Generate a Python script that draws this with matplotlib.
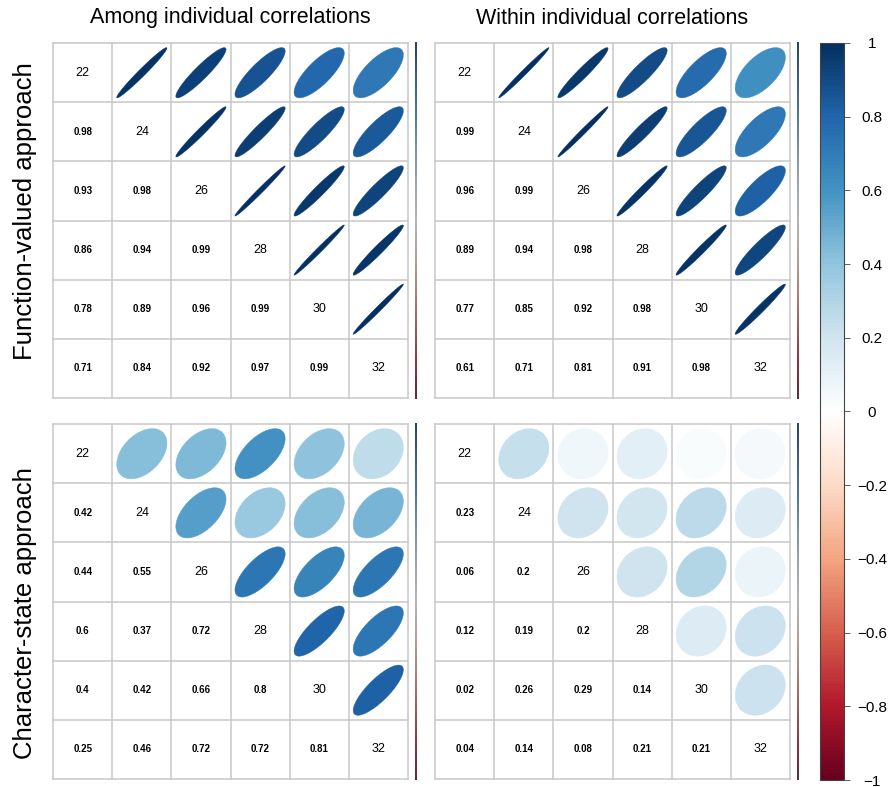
import numpy as np
import matplotlib
matplotlib.use("Agg")
import matplotlib.pyplot as plt
from matplotlib.colors import LinearSegmentedColormap, Normalize
from matplotlib.patches import Polygon
from matplotlib.cm import ScalarMappable

plt.rcParams['font.family'] = ['Liberation Sans', 'DejaVu Sans']

# trait labels (temperatures) on the diagonal
traits = ["22", "24", "26", "28", "30", "32"]

col_titles = ["Among individual correlations", "Within individual correlations"]
row_titles = ["Function-valued approach", "Character-state approach"]

# lower triangles, row by row
fv_among = [[0.98],
            [0.93, 0.98],
            [0.86, 0.94, 0.99],
            [0.78, 0.89, 0.96, 0.99],
            [0.71, 0.84, 0.92, 0.97, 0.99]]
fv_within = [[0.99],
             [0.96, 0.99],
             [0.89, 0.94, 0.98],
             [0.77, 0.85, 0.92, 0.98],
             [0.61, 0.71, 0.81, 0.91, 0.98]]
cs_among = [[0.42],
            [0.44, 0.55],
            [0.6, 0.37, 0.72],
            [0.4, 0.42, 0.66, 0.8],
            [0.25, 0.46, 0.72, 0.72, 0.81]]
cs_within = [[0.23],
             [0.06, 0.2],
             [0.12, 0.19, 0.2],
             [0.02, 0.26, 0.29, 0.14],
             [0.04, 0.14, 0.08, 0.21, 0.21]]

cbar_ticks = [-1, -0.8, -0.6, -0.4, -0.2, 0, 0.2, 0.4, 0.6, 0.8, 1]

# corrplot-style RdBu palette (pure white in the middle)
rdbu = LinearSegmentedColormap.from_list("rdbu2", [
    "#67001F", "#B2182B", "#D6604D", "#F4A582", "#FDDBC7", "#FFFFFF",
    "#D1E5F0", "#92C5DE", "#4393C3", "#2166AC", "#053061"], N=200)
norm = Normalize(-1, 1)

W, H = 892, 787
fig = plt.figure(figsize=(W / 100, H / 100), dpi=100)


def px_axes(x, y, w, h):
    # axes from pixel box (top-left origin)
    return fig.add_axes([x / W, 1 - (y + h) / H, w / W, h / H])


def full_matrix(lower):
    n = len(lower) + 1
    m = np.eye(n)
    for i, row in enumerate(lower):
        for j, v in enumerate(row):
            m[i + 1, j] = v
            m[j, i + 1] = v
    return m


def ellipse_pts(rho, scale=0.85, n=99):
    k = np.linspace(0, 2 * np.pi, n)
    d = np.arccos(rho)
    x = np.cos(k + d / 2) / 2 * scale
    y = np.cos(k - d / 2) / 2 * scale
    return x, y


def draw_corr(ax, lower):
    m = full_matrix(lower)
    n = m.shape[0]
    for i in range(n):
        for j in range(n):
            cx, cy = j + 0.5, i + 0.5
            if i == j:
                ax.text(cx, cy, traits[i], ha="center", va="center", fontsize=9)
            elif i > j:
                ax.text(cx, cy, f"{m[i, j]:g}", ha="center", va="center",
                        fontsize=7, fontweight="bold")
            else:
                ex, ey = ellipse_pts(m[i, j])
                c = rdbu(norm(m[i, j]))
                ax.add_patch(Polygon(np.column_stack([cx + ex, cy - ey]), closed=True,
                                     facecolor=c, edgecolor=c, lw=0.3))
    for k in range(n + 1):
        ax.plot([0, n], [k, k], color="#C8C8C8", lw=1.1, zorder=0)
        ax.plot([k, k], [0, n], color="#C8C8C8", lw=1.1, zorder=0)
    ax.set_xlim(-0.02, n + 0.02)
    ax.set_ylim(n + 0.02, -0.02)
    ax.axis("off")


def thin_bar(x, y, h):
    ax = px_axes(x, y, 2, h)
    grad = np.linspace(1, -1, 200)[:, None]
    cols = rdbu(norm(grad))[..., :3] * 0.55 + 0.45 * np.array([0.35, 0.35, 0.38])
    ax.imshow(cols, aspect="auto", interpolation="bilinear")
    ax.axis("off")


panels = [(52, 42, fv_among), (434, 42, fv_within),
          (52, 423, cs_among), (434, 423, cs_within)]
S = 357
for x, y, data in panels:
    ax = px_axes(x, y, S, S)
    draw_corr(ax, data)
    thin_bar(x + S + 6, y, S)

# column and row headings
fig.text(230.5 / W, 1 - 18 / H, col_titles[0], ha="center", va="center", fontsize=15.5)
fig.text(612.5 / W, 1 - 18 / H, col_titles[1], ha="center", va="center", fontsize=15.5)
fig.text(25 / W, 1 - 211 / H, row_titles[0], ha="center", va="center",
         rotation=90, fontsize=18.5)
fig.text(25 / W, 1 - 613 / H, row_titles[1], ha="center", va="center",
         rotation=90, fontsize=18.5)

# shared colour legend
cax = px_axes(820, 43, 24, 737)
cb = fig.colorbar(ScalarMappable(norm=norm, cmap=rdbu), cax=cax)
cb.outline.set_edgecolor("#444444")
cb.outline.set_linewidth(0.8)
cb.set_ticks(cbar_ticks)
cb.set_ticklabels([f"{t:g}".replace("-", "\u2212") for t in cbar_ticks])
cax.tick_params(axis="y", length=4, width=0.6, color="#444444", pad=16, labelsize=11)
for lab in cax.get_yticklabels():
    lab.set_horizontalalignment("center")

fig.savefig("out.png", dpi=100)
